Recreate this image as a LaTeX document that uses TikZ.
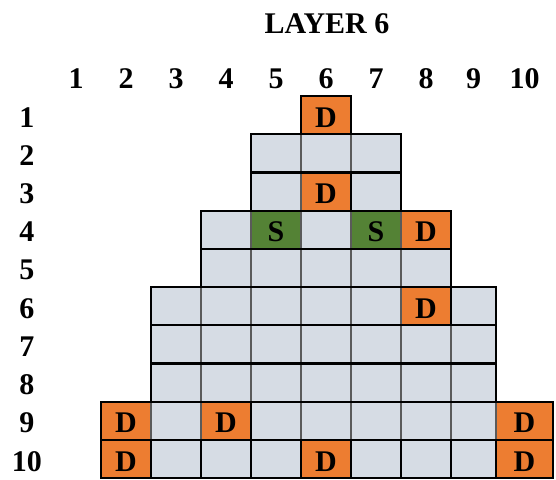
\documentclass[tikz,border=0pt]{standalone}
\usepackage{fontspec}
\setmainfont{Liberation Serif}
\definecolor{cellgray}{HTML}{D6DCE4}
\definecolor{dorange}{HTML}{ED7D31}
\definecolor{sgreen}{HTML}{548235}
\definecolor{gridgray}{HTML}{5A5A5A}
\def\xedges{{51,101,151,201,251,301,351,401,451,496,553}}
\begin{document}
\begin{tikzpicture}[x=1pt,y=-1pt,
  lbl/.style={font=\fontsize{30}{32}\selectfont\bfseries, inner sep=0pt},
  blackline/.style={draw=black, line width=2.2pt},
  grayline/.style={draw=gridgray, line width=1.4pt}]
\useasboundingbox (0,0) rectangle (556,479);
% title
\node[lbl] (title) at (327,24) {LAYER 6};
% column labels
\foreach \c in {1,...,10} {
  \pgfmathsetmacro\xl{\xedges[\c-1]}
  \pgfmathsetmacro\xr{\xedges[\c]}
  \node[lbl] (col\c) at ({(\xl+\xr)/2},79) {\c};
}
% row labels
\foreach \r in {1,...,10} {
  \pgfmathsetmacro\yc{96+38.2*(\r-1)+21.5}
  \node[lbl] (row\r) at (27,\yc) {\r};
}
% gray fills
\foreach \r/\a/\b in {1/6/6,2/5/7,3/5/7,4/4/8,5/4/8,6/3/9,7/3/9,8/3/9,9/2/10,10/2/10} {
  \pgfmathsetmacro\yt{96+38.2*(\r-1)}
  \pgfmathsetmacro\yb{\yt+38.2}
  \pgfmathsetmacro\xa{\xedges[\a-1]}
  \pgfmathsetmacro\xb{\xedges[\b]}
  \fill[cellgray] (\xa,\yt) rectangle (\xb,\yb);
}
% special cells fills
\foreach \r/\c/\col in {1/6/dorange,3/6/dorange,4/5/sgreen,4/7/sgreen,4/8/dorange,6/8/dorange,9/2/dorange,9/4/dorange,9/10/dorange,10/2/dorange,10/6/dorange,10/10/dorange} {
  \pgfmathsetmacro\yt{96+38.2*(\r-1)}
  \pgfmathsetmacro\yb{\yt+38.2}
  \pgfmathsetmacro\xl{\xedges[\c-1]}
  \pgfmathsetmacro\xr{\xedges[\c]}
  \fill[\col] (\xl,\yt) rectangle (\xr,\yb);
}
% gray inner verticals
\foreach \r/\a/\b in {1/6/6,2/5/7,3/5/7,4/4/8,5/4/8,6/3/9,7/3/9,8/3/9,9/2/10} {
  \pgfmathsetmacro\yt{96+38.2*(\r-1)}
  \pgfmathsetmacro\yb{\yt+38.2}
  \foreach \c in {\a,...,\b} {
    \pgfmathsetmacro\xl{\xedges[\c-1]}
    \draw[grayline] (\xl,\yt) -- (\xl,\yb);
  }
}
% black verticals of row 10
\foreach \c in {2,...,10} {
  \pgfmathsetmacro\xl{\xedges[\c-1]}
  \draw[blackline] (\xl,439.8) -- (\xl,478);
}
% black right borders of D cells
\foreach \r/\c in {1/6,3/6,4/8,6/8,9/4} {
  \pgfmathsetmacro\yt{96+38.2*(\r-1)}
  \pgfmathsetmacro\yb{\yt+38.2}
  \pgfmathsetmacro\xr{\xedges[\c]}
  \draw[blackline] (\xr,\yt) -- (\xr,\yb);
}
% black row outlines
\foreach \r/\a/\b in {1/6/6,2/5/7,3/5/7,4/4/8,5/4/8,6/3/9,7/3/9,8/3/9,9/2/10,10/2/10} {
  \pgfmathsetmacro\yt{96+38.2*(\r-1)}
  \pgfmathsetmacro\yb{\yt+38.2}
  \pgfmathsetmacro\xa{\xedges[\a-1]}
  \pgfmathsetmacro\xb{\xedges[\b]}
  \draw[blackline] (\xa,\yt) rectangle (\xb,\yb);
}
% cell texts
\foreach \r/\c/\t in {1/6/D,3/6/D,4/5/S,4/7/S,4/8/D,6/8/D,9/2/D,9/4/D,9/10/D,10/2/D,10/6/D,10/10/D} {
  \pgfmathsetmacro\yc{96+38.2*(\r-1)+21.5}
  \pgfmathsetmacro\xl{\xedges[\c-1]}
  \pgfmathsetmacro\xr{\xedges[\c]}
  \node[lbl] (cell-\r-\c) at ({(\xl+\xr)/2},\yc) {\t};
}
\end{tikzpicture}
\end{document}
